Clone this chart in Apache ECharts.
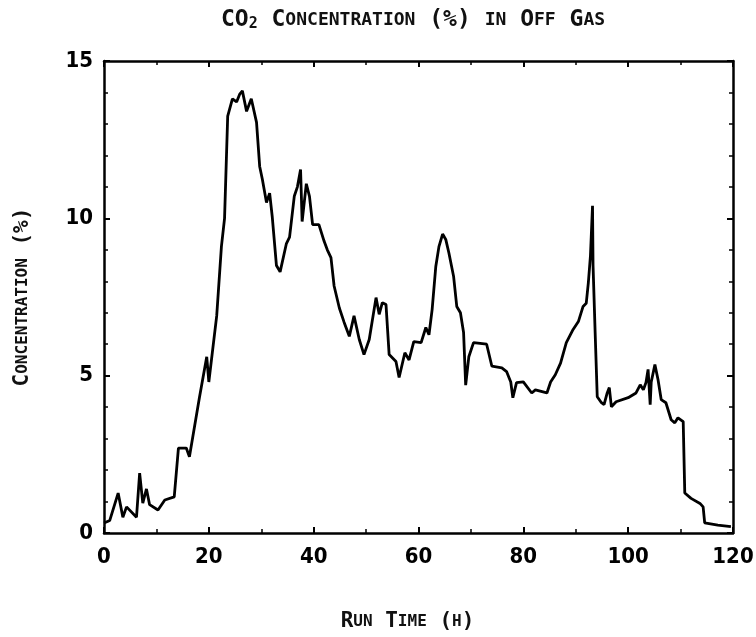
<!DOCTYPE html>
<html lang="en">
<head>
<meta charset="UTF-8">
<title>CO2 Concentration in Off Gas</title>
<script src="https://cdn.jsdelivr.net/npm/echarts@6/dist/echarts.min.js"></script>
</head>
<body style="margin:0;background:#fff;">
<div id="main" style="width:756px;height:637px;"></div>
<script type="text/javascript">
// run time (h) and CO2 concentration (%)
const runTime = [0, 1.1, 2.7, 3.6, 4.3, 6.2, 6.8, 7.4, 8.1, 8.7, 10.3, 11.6, 13.4, 14.2, 15.7, 16.3,
  18.2, 19.6, 20.0, 21.5, 22.4, 23.0, 23.6, 24.5, 25.3, 25.9, 26.4, 27.2, 28.1, 29.1, 29.7, 30.2,
  31.0, 31.6, 32.1, 32.9, 33.6, 34.8, 35.4, 36.3, 36.9, 37.5, 37.8, 38.6, 39.2, 39.8, 41.0, 42.0,
  42.6, 43.3, 43.9, 44.9, 45.8, 46.8, 47.7, 48.7, 49.6, 50.6, 51.9, 52.5, 53.1, 53.8, 54.4, 55.7,
  56.3, 57.4, 58.2, 59.1, 60.5, 61.4, 62.0, 62.6, 63.3, 63.9, 64.6, 65.2, 65.8, 66.7, 67.3, 68.0,
  68.6, 69.0, 69.6, 70.5, 73.0, 74.0, 75.9, 76.8, 77.6, 78.0, 78.7, 80.0, 81.6, 82.3, 84.5, 85.2,
  86.1, 87.1, 88.2, 89.5, 90.5, 91.4, 92.0, 92.4, 92.8, 93.2, 93.3, 93.7, 94.1, 94.9, 95.4, 96.0,
  96.4, 96.8, 97.7, 100.0, 101.5, 102.3, 102.9, 103.4, 103.8, 104.2, 104.4, 105.1, 105.7, 106.3,
  107.2, 108.2, 108.9, 109.5, 110.5, 110.8, 112.0, 113.7, 114.3, 114.6, 117.1, 119.6];
const co2 = [0.32, 0.4, 1.27, 0.5, 0.83, 0.5, 1.9, 0.95, 1.4, 0.9, 0.73, 1.05, 1.15, 2.7, 2.7, 2.42,
  4.3, 5.6, 4.8, 6.9, 9.1, 10.0, 13.25, 13.8, 13.7, 13.95, 14.05, 13.4, 13.8, 13.05, 11.65, 11.25,
  10.5, 10.8, 10.05, 8.5, 8.3, 9.2, 9.4, 10.7, 11.0, 11.55, 9.9, 11.1, 10.7, 9.8, 9.8, 9.27,
  9.0, 8.75, 7.85, 7.15, 6.7, 6.25, 6.9, 6.15, 5.67, 6.15, 7.48, 6.95, 7.32, 7.26, 5.67, 5.45,
  4.94, 5.73, 5.5, 6.08, 6.05, 6.53, 6.3, 7.1, 8.47, 9.1, 9.5, 9.33, 8.9, 8.15, 7.2, 7.0,
  6.37, 4.7, 5.6, 6.05, 6.0, 5.3, 5.25, 5.13, 4.8, 4.3, 4.78, 4.8, 4.45, 4.55, 4.45, 4.8,
  5.03, 5.4, 6.05, 6.47, 6.72, 7.2, 7.3, 7.95, 8.8, 10.4, 8.5, 6.37, 4.33, 4.14, 4.08, 4.45,
  4.62, 4.01, 4.17, 4.3, 4.45, 4.71, 4.55, 4.78, 5.2, 4.08, 4.8, 5.35, 4.87, 4.24,
  4.14, 3.6, 3.5, 3.66, 3.54, 1.27, 1.1, 0.94, 0.83, 0.32, 0.25, 0.2];

const xTicks = [0, 20, 40, 60, 80, 100, 120];
const yTicks = [0, 5, 10, 15];

const series = runTime.map((t, i) => [t, co2[i]]);

const numFont = '"DejaVu Sans Condensed", "Liberation Sans", Arial, sans-serif';
const capsFont = '"DejaVu Sans Mono", monospace';
const big = { fontFamily: capsFont, fontSize: 23, fontWeight: 'bold', color: '#111' };
const small = { fontFamily: capsFont, fontSize: 18, fontWeight: 'bold', color: '#111' };
const sub = { fontFamily: capsFont, fontSize: 15, fontWeight: 'bold', color: '#111', padding: [9, 0, 0, 0] };
const bigN = { fontFamily: capsFont, fontSize: 21, fontWeight: 'bold', color: '#111' };
const smallN = { fontFamily: capsFont, fontSize: 16, fontWeight: 'bold', color: '#111' };

// ticks point inwards on all four sides; major every label, minor in between
function frameAxis(splits, showLabels) {
  return {
    axisLine: { show: true, onZero: false, lineStyle: { color: '#000', width: 2.5 } },
    axisTick: { show: true, inside: true, length: 6, lineStyle: { color: '#000', width: 2 } },
    minorTick: { show: true, splitNumber: splits, length: 4, lineStyle: { color: '#000', width: 1.5 } },
    splitLine: { show: false },
    minorSplitLine: { show: false },
    axisLabel: { show: showLabels }
  };
}

let myChart = echarts.init(document.getElementById('main'));

let options = {
  backgroundColor: '#fff',
  animation: false,
  title: {
    text: '{b|CO}{s|2}{b| C}{m|ONCENTRATION}{b| (%) }{m|IN}{b| O}{m|FF}{b| G}{m|AS}',
    left: 408,
    textAlign: 'center',
    top: 3,
    textStyle: { rich: { b: big, m: small, s: sub } }
  },
  grid: { left: 104, right: 23, top: 61, bottom: 104, outerBoundsMode: 'none', containLabel: false },
  xAxis: [
    Object.assign(frameAxis(2, true), {
      type: 'value', min: 0, max: 120, interval: 20,
      axisLabel: {
        show: true, margin: 13, color: '#000', fontFamily: numFont, fontWeight: 'bold', fontSize: 22,
        formatter: v => xTicks.includes(v) ? String(v) : ''
      },
      name: '{b|R}{m|UN}{b| T}{m|IME}{b| (}{m|H}{b|)}',
      nameLocation: 'middle',
      nameGap: 78,
      nameTextStyle: { padding: [0, 22, 0, 0], rich: { b: bigN, m: smallN } }
    }),
    Object.assign(frameAxis(2, false), {
      type: 'value', min: 0, max: 120, interval: 20, position: 'top'
    })
  ],
  yAxis: [
    Object.assign(frameAxis(5, true), {
      type: 'value', min: 0, max: 15, interval: 5,
      axisLabel: {
        show: true, margin: 11, color: '#000', fontFamily: numFont, fontWeight: 'bold', fontSize: 22,
        formatter: v => yTicks.includes(v) ? String(v) : ''
      },
      name: '{b|C}{m|ONCENTRATION}{b| (%)}',
      nameLocation: 'middle',
      nameGap: 71,
      nameRotate: 90,
      nameTextStyle: { rich: { b: bigN, m: smallN } }
    }),
    Object.assign(frameAxis(5, false), {
      type: 'value', min: 0, max: 15, interval: 5, position: 'right'
    })
  ],
  series: [{
    name: 'CO2',
    type: 'line',
    data: series,
    showSymbol: false,
    lineStyle: { color: '#000', width: 2.8 },
    z: 5
  }]
};

myChart.setOption(options);
</script>
</body>
</html>
